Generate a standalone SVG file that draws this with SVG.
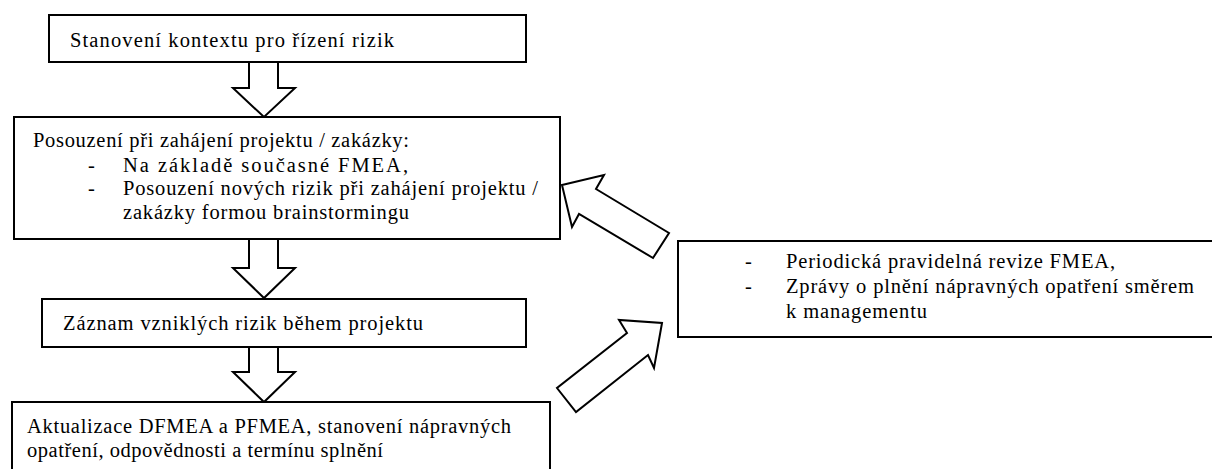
<svg xmlns="http://www.w3.org/2000/svg" width="1212" height="469" viewBox="0 0 1212 469">
<style>
.box{fill:#fff;stroke:#000;stroke-width:2}
.arr{fill:#fff;stroke:#000;stroke-width:2;stroke-linejoin:miter}
</style>
<rect width="1212" height="469" fill="#fff"/>
<g id="connectors">
<polygon class="arr" points="249,62 278,62 278,88 295,88 264,117 233,88 249,88"/>
<polygon class="arr" points="249,239 278,239 278,268 295,268 264,298 233,268 249,268"/>
<polygon class="arr" points="249,347 278,347 278,372 295,372 264,402 233,372 249,372"/>
<polygon class="arr" points="562,185 604,175 596,189 669,233 653,258 579,214 572,227"/>
<polygon class="arr" points="662,323 654,368 648,355 576,412 557,388 627,333 619,320"/>
</g>
<g font-family="Liberation Serif, DejaVu Serif, serif" font-size="20.5" fill="#000">
<g id="n1">
<rect class="box" x="49" y="15" width="477" height="47"/>
<text x="70" y="47" textLength="324">Stanovení kontextu pro řízení rizik</text>
</g>
<g id="n2">
<rect class="box" x="14" y="117" width="546" height="122"/>
<text x="33" y="147" textLength="376">Posouzení při zahájení projektu / zakázky:</text>
<text x="88" y="172">-</text>
<text x="123" y="172" textLength="285">Na základě současné FMEA,</text>
<text x="88" y="195">-</text>
<text x="123" y="195" textLength="415">Posouzení nových rizik při zahájení projektu /</text>
<text x="123" y="219" textLength="286">zakázky formou brainstormingu</text>
</g>
<g id="n3">
<rect class="box" x="42" y="299" width="484" height="48"/>
<text x="63" y="330" textLength="360">Záznam vzniklých rizik během projektu</text>
</g>
<g id="n4">
<rect class="box" x="12" y="402" width="538" height="80"/>
<text x="27" y="433" textLength="484">Aktualizace DFMEA a PFMEA, stanovení nápravných</text>
<text x="27" y="457" textLength="356">opatření, odpovědnosti a termínu splnění</text>
</g>
<g id="n5">
<rect class="box" x="678" y="241" width="540" height="96"/>
<text x="745" y="268">-</text>
<text x="786" y="268" textLength="329">Periodická pravidelná revize FMEA,</text>
<text x="745" y="293">-</text>
<text x="786" y="293" textLength="408">Zprávy o plnění nápravných opatření směrem</text>
<text x="786" y="318" textLength="141">k managementu</text>
</g>
</g>
</svg>
